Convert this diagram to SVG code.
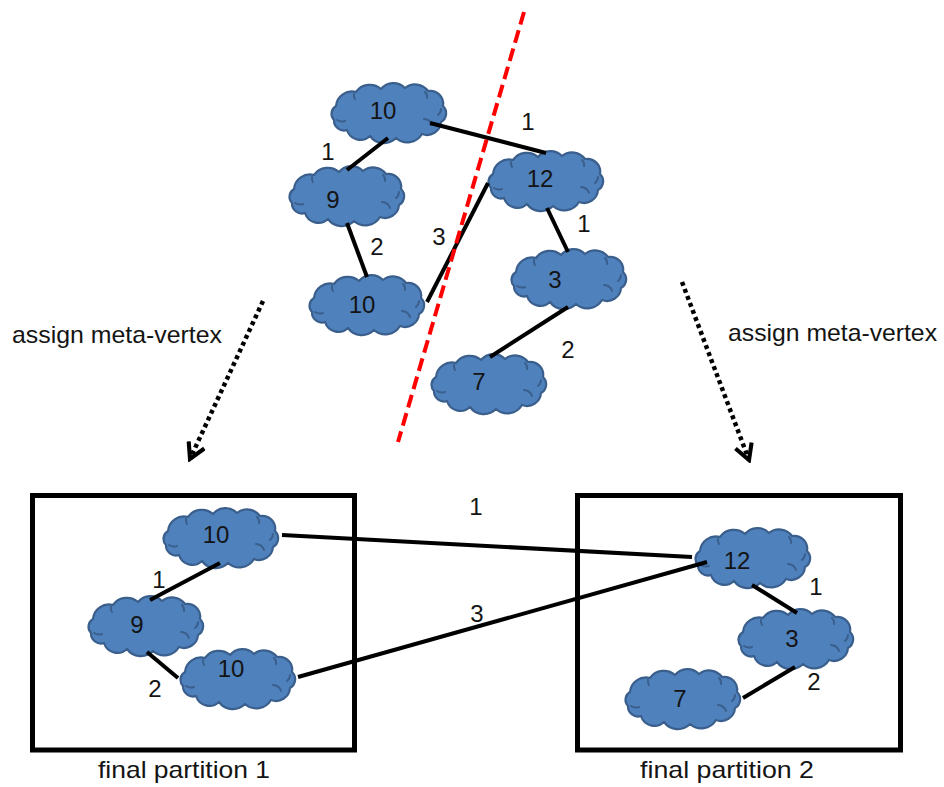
<svg xmlns="http://www.w3.org/2000/svg" xmlns:xlink="http://www.w3.org/1999/xlink" width="944" height="787" viewBox="0 0 944 787">
  <style>
    .cloud { fill: #4F81BD; stroke: #3A5F8C; stroke-width: 2.2; stroke-linejoin: round; }
    .crease { fill: none; stroke: #3A5F8C; stroke-width: 2; stroke-linecap: round; }
    .edge { stroke: #000; stroke-width: 4; stroke-linecap: butt; fill: none; }
    .cut { stroke: #FF0000; stroke-width: 4; stroke-dasharray: 13 6; fill: none; }
    .assign { stroke: #000; stroke-width: 4.5; stroke-dasharray: 4 3.5; fill: none; }
    .box { fill: none; stroke: #000; stroke-width: 5; }
    .lbl { font-family: "Liberation Sans", Arial, sans-serif; font-size: 24px; fill: #141414; text-anchor: middle; }
    .caption { font-family: "Liberation Sans", Arial, sans-serif; font-size: 24px; fill: #141414; }
  </style>
  <defs>
    <!-- cloud outline, 120 x 58, origin at its top-left corner -->
    <g id="cloudShape">
      <path class="cloud" d="M8,24 A16,16 0 0 1 28,10 A17,17 0 0 1 53,7 A16,16 0 0 1 77,6 A16,16 0 0 1 100,9 A13,13 0 0 1 115,24 A10,10 0 0 1 113,40 A14,14 0 0 1 94,52 A17,17 0 0 1 68,56 A17,17 0 0 1 42,54 A14,14 0 0 1 19,48 A10,10 0 0 1 6,38 A9,9 0 0 1 8,24 Z"/>
      <path class="crease" d="M96,37 A9,9 0 0 1 104,43 M113,27 A8,8 0 0 1 110,33 M9,38 A9,9 0 0 0 17,39 M26,12 A8,8 0 0 0 27,17 M97,10 A7,7 0 0 1 99,16"/>
    </g>
    <marker id="vhead" viewBox="0 0 12 12" refX="10" refY="6" markerWidth="4.6" markerHeight="4.6" orient="auto" markerUnits="strokeWidth">
      <path d="M1,1 L10,6 L1,11" fill="none" stroke="#000" stroke-width="2.4" stroke-linejoin="miter"/>
    </marker>
  </defs>

  <rect width="944" height="787" fill="#FFFFFF"/>

  <!-- partition frames -->
  <rect class="box" x="32.5" y="495.5" width="322" height="254.5"/>
  <rect class="box" x="577.5" y="495.5" width="323" height="254.5"/>

  <!-- top graph vertices -->
  <g id="t10a"><use xlink:href="#cloudShape" x="328" y="82"/><text class="lbl" x="383" y="119">10</text></g>
  <g id="t9"><use xlink:href="#cloudShape" x="286" y="165"/><text class="lbl" x="333" y="208">9</text></g>
  <g id="t12"><use xlink:href="#cloudShape" x="485" y="150"/><text class="lbl" x="540" y="187">12</text></g>
  <g id="t3"><use xlink:href="#cloudShape" x="508" y="248"/><text class="lbl" x="555" y="288">3</text></g>
  <g id="t10b"><use xlink:href="#cloudShape" x="306" y="274"/><text class="lbl" x="362" y="313">10</text></g>
  <g id="t7"><use xlink:href="#cloudShape" x="428" y="353"/><text class="lbl" x="479" y="390">7</text></g>

  <!-- partitioned vertices -->
  <g id="p1-10a"><use xlink:href="#cloudShape" x="160" y="507"/><text class="lbl" x="216" y="543">10</text></g>
  <g id="p1-9"><use xlink:href="#cloudShape" x="85" y="595"/><text class="lbl" x="137" y="633">9</text></g>
  <g id="p1-10b"><use xlink:href="#cloudShape" x="177" y="648"/><text class="lbl" x="231" y="677">10</text></g>
  <g id="p2-12"><use xlink:href="#cloudShape" x="692" y="527"/><text class="lbl" x="737" y="569">12</text></g>
  <g id="p2-3"><use xlink:href="#cloudShape" x="735" y="608"/><text class="lbl" x="792" y="647">3</text></g>
  <g id="p2-7"><use xlink:href="#cloudShape" x="622" y="668"/><text class="lbl" x="680" y="707">7</text></g>

  <!-- connectors -->
  <g id="connectors">
    <line class="edge" x1="430" y1="123" x2="546" y2="153"/>
    <line class="edge" x1="388" y1="138" x2="347" y2="170"/>
    <line class="edge" x1="347" y1="223" x2="367" y2="277"/>
    <line class="edge" x1="488" y1="183" x2="427" y2="302"/>
    <line class="edge" x1="547" y1="208" x2="568" y2="252"/>
    <line class="edge" x1="568" y1="307" x2="490" y2="357"/>

    <line class="edge" x1="282" y1="535" x2="692" y2="557"/>
    <line class="edge" x1="220" y1="563" x2="150" y2="600"/>
    <line class="edge" x1="147" y1="652" x2="178" y2="678"/>
    <line class="edge" x1="298" y1="677" x2="707" y2="562"/>
    <line class="edge" x1="752" y1="585" x2="797" y2="613"/>
    <line class="edge" x1="795" y1="667" x2="743" y2="698"/>

    <line class="cut" x1="524" y1="12" x2="398" y2="442"/>

    <line class="assign" x1="263" y1="301" x2="190" y2="459" marker-end="url(#vhead)"/>
    <line class="assign" x1="682" y1="282" x2="749" y2="460" marker-end="url(#vhead)"/>
  </g>

  <!-- edge weights -->
  <g id="weights">
    <text class="lbl" x="528" y="130">1</text>
    <text class="lbl" x="328" y="160">1</text>
    <text class="lbl" x="377" y="255">2</text>
    <text class="lbl" x="439" y="245">3</text>
    <text class="lbl" x="584" y="232">1</text>
    <text class="lbl" x="568" y="358">2</text>

    <text class="lbl" x="476" y="515">1</text>
    <text class="lbl" x="477" y="622">3</text>
    <text class="lbl" x="159" y="588">1</text>
    <text class="lbl" x="155" y="697">2</text>
    <text class="lbl" x="816" y="595">1</text>
    <text class="lbl" x="814" y="690">2</text>
  </g>

  <!-- captions -->
  <text class="caption" x="12" y="343" textLength="210" lengthAdjust="spacingAndGlyphs">assign meta-vertex</text>
  <text class="caption" x="728" y="341" textLength="209" lengthAdjust="spacingAndGlyphs">assign meta-vertex</text>
  <text class="caption" x="98" y="778" textLength="172" lengthAdjust="spacingAndGlyphs">final partition 1</text>
  <text class="caption" x="640" y="778" textLength="174" lengthAdjust="spacingAndGlyphs">final partition 2</text>
</svg>
